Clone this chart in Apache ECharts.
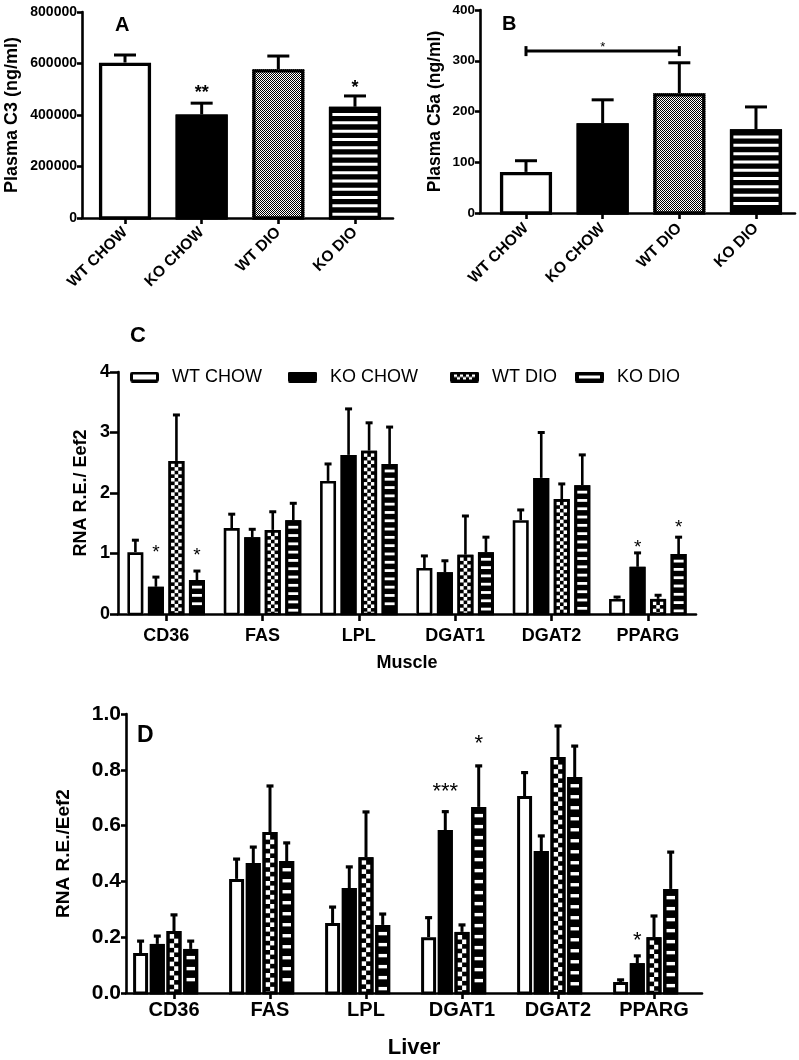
<!DOCTYPE html>
<html><head><meta charset="utf-8">
<script src="https://cdn.jsdelivr.net/npm/echarts@6/dist/echarts.min.js"></script>
<style>html,body{margin:0;padding:0;background:#fff}#c{width:799px;height:1060px}</style>
</head><body><div id="c"></div>
<script>
// ---------- DATA ----------
const groups = ['WT CHOW', 'KO CHOW', 'WT DIO', 'KO DIO'];
// Panel A: Plasma C3 (ng/ml), mean and SEM
const c3Mean = [603000, 402000, 578000, 432000];
const c3Sem = [30000, 44000, 51000, 42000];
const c3Stars = [[1, 0, 501000], [3, 0, 520000]];
const c3StarText = ['**', '*'];
// Panel B: Plasma C5a (ng/ml)
const c5aMean = [81, 177, 236, 165];
const c5aSem = [22, 46, 60, 44];
const c5aBracket = [[0, 2, 319, 333]]; // from group, to group, bracket level, star level
const c5aBracketText = ['*'];
// Panels C/D genes
const genes = ['CD36', 'FAS', 'LPL', 'DGAT1', 'DGAT2', 'PPARG'];
// Panel C: Muscle RNA R.E./Eef2
const muscleWtChow = [1.02, 1.42, 2.20, 0.76, 1.55, 0.25];
const muscleWtChowSem = [0.20, 0.23, 0.28, 0.20, 0.17, 0.03];
const muscleKoChow = [0.45, 1.27, 2.63, 0.69, 2.25, 0.78];
const muscleKoChowSem = [0.16, 0.13, 0.76, 0.19, 0.75, 0.23];
const muscleWtDio = [2.53, 1.39, 2.70, 0.98, 1.90, 0.25];
const muscleWtDioSem = [0.76, 0.30, 0.46, 0.64, 0.25, 0.06];
const muscleKoDio = [0.56, 1.55, 2.48, 1.02, 2.13, 0.99];
const muscleKoDioSem = [0.15, 0.28, 0.61, 0.25, 0.50, 0.28];
const muscleStars = [[0, 1, 1.09], [0, 3, 1.03], [5, 1, 1.17], [5, 3, 1.50]];
const muscleStarText = ['*', '*', '*', '*'];
// Panel D: Liver RNA R.E./Eef2
const liverWtChow = [0.143, 0.409, 0.251, 0.200, 0.706, 0.039];
const liverWtChowSem = [0.043, 0.071, 0.057, 0.070, 0.084, 0.008];
const liverKoChow = [0.176, 0.466, 0.376, 0.584, 0.509, 0.107];
const liverKoChowSem = [0.028, 0.057, 0.076, 0.066, 0.054, 0.026];
const liverWtDio = [0.222, 0.577, 0.487, 0.219, 0.846, 0.200];
const liverWtDioSem = [0.058, 0.165, 0.162, 0.025, 0.111, 0.076];
const liverKoDio = [0.158, 0.473, 0.244, 0.667, 0.774, 0.373];
const liverKoDioSem = [0.028, 0.065, 0.039, 0.147, 0.111, 0.132];
const liverStars = [[3, 1, 0.738], [3, 3, 0.91], [5, 1, 0.204]];
const liverStarText = ['***', '*', '*'];

// ---------- STYLE HELPERS ----------
const FF = '"Liberation Sans", Arial, sans-serif';
function makeCanvas(w, h, draw) { const c = document.createElement('canvas'); c.width = w; c.height = h; draw(c.getContext('2d')); return c; }
const fineChecker = makeCanvas(2, 2, ctx => { ctx.fillStyle = '#fff'; ctx.fillRect(0, 0, 2, 2); ctx.fillStyle = '#000'; ctx.fillRect(0, 0, 1, 1); ctx.fillRect(1, 1, 1, 1); });
function rr(ctx, x, y, w, h, r) { ctx.beginPath(); ctx.moveTo(x + r, y); ctx.lineTo(x + w - r, y); ctx.quadraticCurveTo(x + w, y, x + w, y + r); ctx.lineTo(x + w, y + h - r); ctx.quadraticCurveTo(x + w, y + h, x + w - r, y + h); ctx.lineTo(x + r, y + h); ctx.quadraticCurveTo(x, y + h, x, y + h - r); ctx.lineTo(x, y + r); ctx.quadraticCurveTo(x, y, x + r, y); ctx.closePath(); }
const S = 4;
const iconCanvases = [
  makeCanvas(29 * S, 11 * S, ctx => { ctx.scale(S, S); rr(ctx, 1.5, 1.5, 26, 8, 1.5); ctx.fillStyle = '#fff'; ctx.fill(); ctx.lineWidth = 3; ctx.strokeStyle = '#000'; ctx.stroke(); }),
  makeCanvas(29 * S, 11 * S, ctx => { ctx.scale(S, S); rr(ctx, 0, 0, 29, 11, 2); ctx.fillStyle = '#000'; ctx.fill(); }),
  makeCanvas(29 * S, 11 * S, ctx => { ctx.scale(S, S); rr(ctx, 0, 0, 29, 11, 2); ctx.fillStyle = '#000'; ctx.fill(); ctx.fillStyle = '#fff';
    [4, 10, 16, 22].forEach(x => ctx.fillRect(x, 3, 3, 2.5)); [7, 13, 19].forEach(x => ctx.fillRect(x, 5.5, 3, 2.5)); }),
  makeCanvas(29 * S, 11 * S, ctx => { ctx.scale(S, S); rr(ctx, 0, 0, 29, 11, 2); ctx.fillStyle = '#000'; ctx.fill(); ctx.fillStyle = '#fff'; ctx.fillRect(4, 4, 21, 3); })
];
const iconUrls = iconCanvases.map(c => 'image://' + c.toDataURL());

function drawBar(children, cx, w, y0, yt, ye, st, p) {
  children.push({ type: 'line', shape: { x1: cx, y1: yt, x2: cx, y2: ye }, style: { stroke: '#000', lineWidth: p.errW } });
  children.push({ type: 'rect', shape: { x: cx - p.capW / 2, y: ye - p.capH / 2, width: p.capW, height: p.capH }, style: { fill: '#000' } });
  const left = cx - w / 2, h = y0 - yt, bw = p.bw;
  let fill = '#fff';
  if (st === 'black' || st === 'checker' || st === 'dash') fill = '#000';
  if (st === 'fine') fill = { image: fineChecker, repeat: 'repeat' };
  children.push({ type: 'rect', shape: { x: left, y: yt, width: w, height: h }, style: { fill: fill } });
  if (st === 'checker') {
    const x0 = left + bw, x1 = left + w - bw, c = p.cell;
    let r = 0;
    for (let y = yt + bw; y < y0; y += c, r++) {
      let k = 0;
      for (let x = x0; x < x1 - 0.3; x += c, k++) {
        if ((r + k) % 2 === 0) children.push({ type: 'rect', shape: { x: x, y: y, width: Math.min(c, x1 - x), height: Math.min(c, y0 - y) }, style: { fill: '#fff' } });
      }
    }
  }
  if (st === 'dash') {
    const x0 = left + p.dm, dw = w - 2 * p.dm;
    for (let y = yt + bw + p.dgap; y + p.dh <= y0 - 1; y += p.dp) children.push({ type: 'rect', shape: { x: x0, y: y, width: dw, height: p.dh }, style: { fill: '#fff' } });
  }
  children.push({ type: 'rect', shape: { x: left + bw / 2, y: yt + bw / 2, width: w - bw, height: h - bw / 2 }, style: { fill: 'none', stroke: '#000', lineWidth: bw } });
}

// panel parameters (drawing styles only)
const pA = { bw: 3.3, errW: 3, capW: 22, capH: 3, dm: 3.3, dgap: 3, dp: 8.3, dh: 3, width: 0.68 };
const pC = { bw: 2.6, errW: 2.6, capW: 7, capH: 3, cell: 3.6, dm: 3, dgap: 3, dp: 8.3, dh: 2.8, width: 0.166, pitch: 0.213, center: 1.5 };
const pD = { bw: 3, errW: 3, capW: 7, capH: 3.2, cell: 4.6, dm: 3.2, dgap: 4, dp: 11, dh: 3.4, width: 0.156, pitch: 0.174, center: 2 };
const abStyles = ['white', 'black', 'fine', 'dash'];
const cdStyles = ['white', 'black', 'checker', 'dash'];

function singleBarSeries(axisIdx, means, sems, p) {
  return { type: 'custom', name: 'bars' + axisIdx, xAxisIndex: axisIdx, yAxisIndex: axisIdx, silent: true,
    data: means.map((m, i) => [i, m, sems[i]]),
    renderItem: function (params, api) {
      const ci = api.value(0), m = api.value(1), s = api.value(2);
      const unit = api.size([1, 0])[0];
      const base = api.coord([ci, 0]), top = api.coord([ci, m]), et = api.coord([ci, m + s]);
      const children = [];
      drawBar(children, base[0], p.width * unit, base[1], top[1], et[1], abStyles[params.dataIndex], p);
      return { type: 'group', children: children };
    } };
}
function groupBarSeries(axisIdx, gi, means, sems, p) {
  return { type: 'custom', name: groups[gi], xAxisIndex: axisIdx, yAxisIndex: axisIdx, silent: true,
    data: means.map((m, i) => [i, m, sems[i]]),
    renderItem: function (params, api) {
      const ci = api.value(0), m = api.value(1), s = api.value(2);
      const band = api.size([1, 0])[0];
      const base = api.coord([ci, 0]), top = api.coord([ci, m]), et = api.coord([ci, m + s]);
      const cx = base[0] + (gi - p.center) * p.pitch * band;
      const children = [];
      drawBar(children, cx, p.width * band, base[1], top[1], et[1], cdStyles[gi], p);
      return { type: 'group', children: children };
    } };
}
function starSeries(axisIdx, data, texts, p, fs, fw) {
  return { type: 'custom', xAxisIndex: axisIdx, yAxisIndex: axisIdx, silent: true, z: 5, data: data,
    renderItem: function (params, api) {
      const ci = api.value(0), gi = api.value(1), v = api.value(2);
      const band = api.size([1, 0])[0];
      const pt = api.coord([ci, v]);
      const cx = pt[0] + (p.pitch ? (gi - p.center) * p.pitch * band : 0);
      return { type: 'text', x: cx, y: pt[1] + 0.24 * fs, style: { text: texts[params.dataIndex], fontSize: fs, fontWeight: fw, fontFamily: FF, fill: '#000', align: 'center', verticalAlign: 'middle' } };
    } };
}
const bracketSeries = { type: 'custom', xAxisIndex: 1, yAxisIndex: 1, silent: true, z: 5, data: c5aBracket,
  renderItem: function (params, api) {
    const a = api.coord([api.value(0), api.value(2)]), b = api.coord([api.value(1), api.value(2)]);
    const st = api.coord([(api.value(0) + api.value(1)) / 2, api.value(3)]);
    const lw = { stroke: '#000', lineWidth: 3 };
    return { type: 'group', children: [
      { type: 'line', shape: { x1: a[0], y1: a[1], x2: b[0], y2: b[1] }, style: lw },
      { type: 'line', shape: { x1: a[0], y1: a[1] - 5, x2: a[0], y2: a[1] + 5 }, style: lw },
      { type: 'line', shape: { x1: b[0], y1: b[1] - 5, x2: b[0], y2: b[1] + 5 }, style: lw },
      { type: 'text', x: st[0], y: st[1] + 3, style: { text: c5aBracketText[params.dataIndex], fontSize: 13, fontFamily: FF, fill: '#000', align: 'center', verticalAlign: 'middle' } }
    ] };
  } };

// ---------- AXES ----------
const axLine = { show: true, onZero: false, lineStyle: { color: '#000', width: 2.6 } };
function tick(len) { return { show: true, length: len, lineStyle: { color: '#000', width: 2.6 } }; }
function lbl(fs, extra) { return Object.assign({ color: '#000', fontWeight: 'bold', fontSize: fs, fontFamily: FF }, extra || {}); }
const idx4 = [0, 1, 2, 3];

const option = {
  animation: false,
  backgroundColor: '#fff',
  grid: [
    { left: 82, top: 12, width: 311, height: 206, outerBoundsMode: 'none' },
    { left: 480, top: 10, width: 315, height: 203, outerBoundsMode: 'none' },
    { left: 118, top: 372, width: 578, height: 242, outerBoundsMode: 'none' },
    { left: 126, top: 714, width: 576, height: 279, outerBoundsMode: 'none' }
  ],
  title: [
    { text: 'A', left: 115, top: 15, padding: 0, textStyle: { fontSize: 20, fontWeight: 'bold', fontFamily: FF, color: '#000' } },
    { text: 'B', left: 502, top: 14, padding: 0, textStyle: { fontSize: 20, fontWeight: 'bold', fontFamily: FF, color: '#000' } },
    { text: 'C', left: 130, top: 325, padding: 0, textStyle: { fontSize: 22, fontWeight: 'bold', fontFamily: FF, color: '#000' } },
    { text: 'D', left: 137, top: 724, padding: 0, textStyle: { fontSize: 23, fontWeight: 'bold', fontFamily: FF, color: '#000' } }
  ],
  legend: groups.map((g, i) => ({
    data: [{ name: g, icon: iconUrls[i] }], left: [130, 288, 450, 575][i], top: 368, padding: 0,
    itemWidth: 29, itemHeight: 11, selectedMode: false,
    textStyle: { fontSize: 18, fontFamily: FF, color: '#000', padding: [0, 0, 0, 8] }
  })),
  xAxis: [
    { gridIndex: 0, type: 'value', min: -0.561, max: 3.496, splitLine: { show: false }, axisLine: axLine, axisTick: Object.assign(tick(6), { customValues: idx4 }),
      axisLabel: lbl(15.5, { customValues: idx4, rotate: 45, margin: 12, formatter: v => groups[Math.round(v)] }) },
    { gridIndex: 1, type: 'value', min: -0.6, max: 3.509, splitLine: { show: false }, axisLine: axLine, axisTick: Object.assign(tick(6), { customValues: idx4 }),
      axisLabel: lbl(15.5, { customValues: idx4, rotate: 45, margin: 13, formatter: v => groups[Math.round(v)] }) },
    { gridIndex: 2, type: 'category', data: genes, axisLine: axLine, axisTick: Object.assign(tick(7), { alignWithLabel: true }),
      axisLabel: lbl(18, { margin: 13, interval: 0 }),
      name: 'Muscle', nameLocation: 'middle', nameGap: 40, nameMoveOverlap: false, nameTextStyle: lbl(18) },
    { gridIndex: 3, type: 'category', data: genes, axisLine: axLine, axisTick: Object.assign(tick(6), { alignWithLabel: true }),
      axisLabel: lbl(20, { margin: 7, interval: 0 }),
      name: 'Liver', nameLocation: 'middle', nameGap: 44, nameMoveOverlap: false, nameTextStyle: lbl(22) }
  ],
  yAxis: [
    { gridIndex: 0, type: 'value', min: 0, max: 800000, interval: 200000, splitLine: { show: false }, axisLine: axLine, axisTick: tick(5),
      axisLabel: lbl(14, { margin: 5, formatter: v => String(v) }),
      name: 'Plasma C3 (ng/ml)', nameLocation: 'middle', nameGap: 61, nameMoveOverlap: false, nameTextStyle: lbl(18) },
    { gridIndex: 1, type: 'value', min: 0, max: 400, interval: 100, splitLine: { show: false }, axisLine: axLine, axisTick: tick(5),
      axisLabel: lbl(13.5, { margin: 5 }),
      name: 'Plasma C5a (ng/ml)', nameLocation: 'middle', nameGap: 36, nameMoveOverlap: false, nameTextStyle: lbl(17.5) },
    { gridIndex: 2, type: 'value', min: 0, max: 4, interval: 1, splitLine: { show: false }, axisLine: axLine, axisTick: tick(8),
      axisLabel: lbl(18, { margin: 8 }),
      name: 'RNA R.E./ Eef2', nameLocation: 'middle', nameGap: 28, nameMoveOverlap: false, nameTextStyle: lbl(18) },
    { gridIndex: 3, type: 'value', min: 0, max: 1, interval: 0.2, splitLine: { show: false }, axisLine: axLine, axisTick: tick(5),
      axisLabel: lbl(21, { margin: 5, formatter: v => v.toFixed(1) }),
      name: 'RNA R.E./Eef2', nameLocation: 'middle', nameGap: 53, nameMoveOverlap: false, nameTextStyle: lbl(19) }
  ],
  series: [
    singleBarSeries(0, c3Mean, c3Sem, pA),
    starSeries(0, c3Stars, c3StarText, {}, 18, 'bold'),
    singleBarSeries(1, c5aMean, c5aSem, pA),
    bracketSeries,
    groupBarSeries(2, 0, muscleWtChow, muscleWtChowSem, pC),
    groupBarSeries(2, 1, muscleKoChow, muscleKoChowSem, pC),
    groupBarSeries(2, 2, muscleWtDio, muscleWtDioSem, pC),
    groupBarSeries(2, 3, muscleKoDio, muscleKoDioSem, pC),
    starSeries(2, muscleStars, muscleStarText, pC, 19, 'normal'),
    groupBarSeries(3, 0, liverWtChow, liverWtChowSem, pD),
    groupBarSeries(3, 1, liverKoChow, liverKoChowSem, pD),
    groupBarSeries(3, 2, liverWtDio, liverWtDioSem, pD),
    groupBarSeries(3, 3, liverKoDio, liverKoDioSem, pD),
    starSeries(3, liverStars, liverStarText, pD, 22, 'normal')
  ]
};
const chart = echarts.init(document.getElementById('c'), null, { renderer: 'canvas' });
chart.setOption(option);
</script>
</body></html>
